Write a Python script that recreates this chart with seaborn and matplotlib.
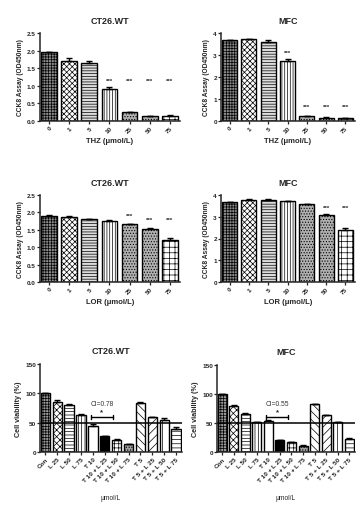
import matplotlib

matplotlib.use("Agg")
import matplotlib.pyplot as plt
import seaborn as sns
from matplotlib.axes import Axes
from pandas import DataFrame

# dose-response panels
doses = ["0", "1", "5", "10", "25", "50", "75"]

thz_ct26 = [1.95, 1.70, 1.65, 0.90, 0.25, 0.13, 0.15]
thz_ct26_err = [0.02, 0.08, 0.05, 0.06, 0.01, 0.01, 0.01]
thz_ct26_stars = [None, None, None, 1.08, 1.08, 1.08, 1.08]

thz_mfc = [3.67, 3.72, 3.60, 2.72, 0.22, 0.15, 0.12]
thz_mfc_err = [0.03, 0.02, 0.06, 0.08, 0.01, 0.01, 0.01]
thz_mfc_stars = [None, None, None, 3.0, 0.56, 0.56, 0.56]

lor_ct26 = [1.90, 1.87, 1.80, 1.76, 1.66, 1.53, 1.22]
lor_ct26_err = [0.02, 0.03, 0.01, 0.03, 0.02, 0.03, 0.04]
lor_ct26_stars = [None, None, None, None, 1.83, 1.72, 1.72]

lor_mfc = [3.66, 3.77, 3.78, 3.72, 3.57, 3.10, 2.40]
lor_mfc_err = [0.02, 0.03, 0.02, 0.01, 0.03, 0.04, 0.08]
lor_mfc_stars = [None, None, None, None, None, 3.33, 3.33]

# combination panels
combos = ["Con", "L 25", "L 50", "L 75", "T 10", "T 10 + L 25", "T 10 + L 50",
          "T 10 + L 75", "T 5", "T 5 + L 25", "T 5 + L 50", "T 5 + L 75"]

combo_ct26 = [100, 86, 80, 63, 45, 28, 21, 13, 84, 59, 55, 40]
combo_ct26_err = [0, 2, 1.5, 2, 2, 0, 1.5, 1, 2, 1.5, 3, 3]

combo_mfc = [100, 79, 65, 51, 54, 21, 17, 11, 82, 63, 51, 23]
combo_mfc_err = [0, 1.5, 2, 1, 1, 0.5, 0.5, 0.5, 1.5, 1, 0.5, 2]

ci_ct26 = "CI=0.78"
ci_mfc = "CI=0.55"

dose_hatch = ["++++++", "xxxxxx", "------", "||||||", "......", "......", "+++"]
dose_face = ["#8a8a8a", "white", "#dcdcdc", "white", "#b0b0b0", "#b0b0b0", "white"]

combo_hatch = ["++++++", "xxxxx", "-----", "|||||", "", "", "++++", "......",
               "\\\\\\\\", "////", "||", "----"]
combo_face = ["#9a9a9a", "white", "white", "white", "white", "black", "white",
              "#a0a0a0", "white", "white", "white", "white"]


def _styleBars(ax: Axes, faces: list, hatches: list) -> None:
    for patch, face, hatch in zip(ax.patches, faces, hatches):
        patch.set_facecolor(face)
        patch.set_edgecolor("black")
        patch.set_linewidth(1.0)
        patch.set_hatch(hatch)


def plot_Bars(ax: Axes, labels: list, values: list, errors: list,
              faces: list, hatches: list) -> None:
    df = DataFrame({"x": labels, "y": values})
    sns.barplot(data=df, x="x", y="y", ax=ax, order=labels, width=0.78,
                errorbar=None, color="white")
    _styleBars(ax, faces, hatches)
    xs = ax.get_xticks()
    ax.errorbar(xs, values, yerr=[[0] * len(errors), errors], fmt="none",
                ecolor="black", elinewidth=1.0, capsize=2.2, capthick=1.0)
    sns.despine(ax=ax)
    ax.spines["left"].set_linewidth(1.1)
    ax.spines["bottom"].set_linewidth(1.1)
    ax.tick_params(axis="both", labelsize=4.6, width=0.9, length=2, pad=1)
    ax.set_xlim(-0.45, len(labels) - 0.5)
    ax.set_xticks(xs)
    ax.set_xticklabels(labels, rotation=45, ha="right", rotation_mode="anchor")


def plot_Dose(ax: Axes, title: str, values: list, errors: list, stars: list,
              ymax: float, yticks: list, drug: str) -> None:
    plot_Bars(ax, doses, values, errors, dose_face, dose_hatch)
    for x, s in zip(ax.get_xticks(), stars):
        if s is not None:
            ax.text(x, s, "***", ha="center", va="bottom", fontsize=4.5)
    ax.set_ylim(0, ymax)
    ax.set_yticks(yticks)
    ax.set_yticklabels([f"{t:.1f}" if ymax < 3 else f"{t:g}" for t in yticks])
    ax.set_xlabel(f"{drug} (\u03bcmol/L)", fontsize=5.5, labelpad=2)
    ax.set_ylabel("CCK8 Assay (OD450nm)", fontsize=4.8, labelpad=2)
    ax.set_title(title, fontsize=6.5, pad=7)


def plot_Combo(ax: Axes, title: str, values: list, errors: list, ci: str) -> None:
    plot_Bars(ax, combos, values, errors, combo_face, combo_hatch)
    ax.axhline(50, color="black", linewidth=1.1, xmin=0, xmax=1)
    # CI bracket between T 10 and T 10 + L 25
    x0, x1 = 3.8, 5.7
    ax.plot([x0, x1], [60, 60], color="black", linewidth=1.0)
    ax.plot([x0, x0], [57, 63], color="black", linewidth=1.0)
    ax.plot([x1, x1], [57, 63], color="black", linewidth=1.0)
    ax.text((x0 + x1) / 2, 63, "*", ha="center", va="bottom", fontsize=5.5)
    ax.text((x0 + x1) / 2, 77, ci, ha="center", va="bottom", fontsize=4.8,
            fontweight="normal", color="#333333")
    ax.set_ylim(0, 150)
    ax.set_yticks([0, 50, 100, 150])
    ax.set_xlabel("\u03bcmol/L", fontsize=4.8, labelpad=8, fontweight="normal")
    ax.set_ylabel("Cell viability (%)", fontsize=5.2, labelpad=2)
    ax.set_title(title, fontsize=6.5, pad=8)


def main() -> None:
    sns.set_style("ticks")
    plt.rcParams["font.family"] = ["Liberation Sans", "DejaVu Sans"]
    plt.rcParams["font.weight"] = "bold"
    plt.rcParams["axes.labelweight"] = "bold"
    plt.rcParams["axes.titleweight"] = "bold"
    plt.rcParams["hatch.linewidth"] = 0.5

    fig = plt.figure(figsize=(3.64, 5.06), dpi=100)
    W, H = 364, 506

    def rect(l, t, r, b):
        return [l / W, 1 - b / H, (r - l) / W, (b - t) / H]

    ax1 = fig.add_axes(rect(40, 34, 180, 122))
    ax2 = fig.add_axes(rect(221, 34, 355, 122))
    ax3 = fig.add_axes(rect(40, 196, 180, 283))
    ax4 = fig.add_axes(rect(221, 196, 355, 283))
    ax5 = fig.add_axes(rect(40, 365, 182, 453))
    ax6 = fig.add_axes(rect(217, 366, 355, 453))

    plot_Dose(ax1, "CT26.WT", thz_ct26, thz_ct26_err, thz_ct26_stars, 2.5,
              [0, 0.5, 1.0, 1.5, 2.0, 2.5], "THZ")
    plot_Dose(ax2, "MFC", thz_mfc, thz_mfc_err, thz_mfc_stars, 4,
              [0, 1, 2, 3, 4], "THZ")
    plot_Dose(ax3, "CT26.WT", lor_ct26, lor_ct26_err, lor_ct26_stars, 2.5,
              [0, 0.5, 1.0, 1.5, 2.0, 2.5], "LOR")
    plot_Dose(ax4, "MFC", lor_mfc, lor_mfc_err, lor_mfc_stars, 4,
              [0, 1, 2, 3, 4], "LOR")
    plot_Combo(ax5, "CT26.WT", combo_ct26, combo_ct26_err, ci_ct26)
    plot_Combo(ax6, "MFC", combo_mfc, combo_mfc_err, ci_mfc)

    fig.savefig("out.png", dpi=100, facecolor="white")


if __name__ == "__main__":
    main()
